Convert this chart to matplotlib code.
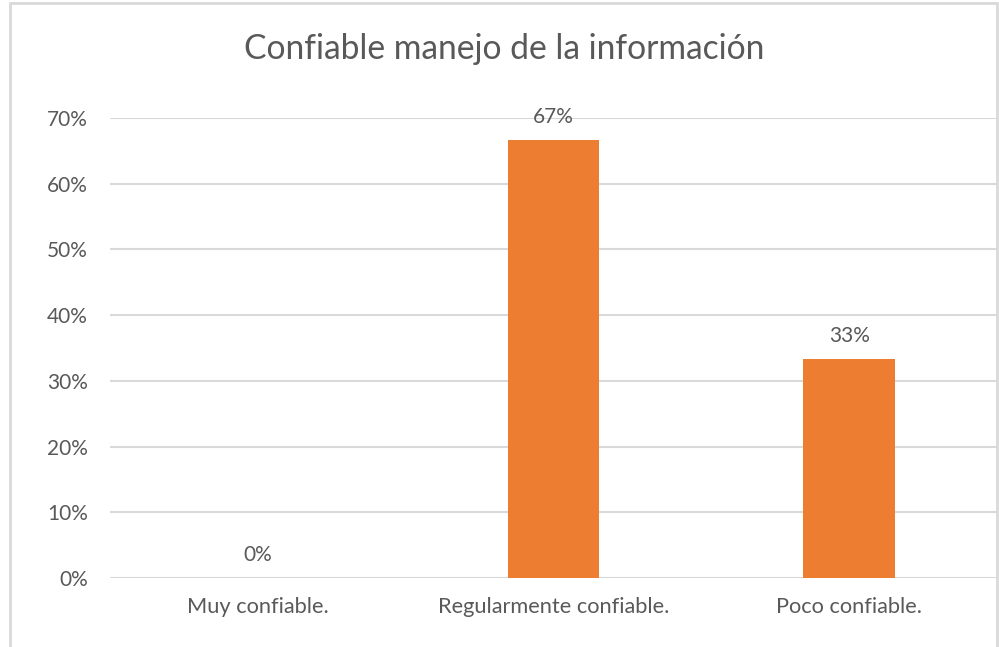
import matplotlib.pyplot as plt
from matplotlib.patches import Rectangle
from matplotlib.ticker import FuncFormatter

plt.rcParams['font.family'] = ['Lato', 'DejaVu Sans']

categories = ["Muy confiable.", "Regularmente confiable.", "Poco confiable."]
values = [0.0, 0.6667, 0.3333]
labels = ["0%", "67%", "33%"]

text_color = "#595959"
grid_color = "#d9d9d9"
bar_color = "#ed7d31"

fig = plt.figure(figsize=(9.99, 6.47), dpi=100)
ax = fig.add_axes([0.110, 0.1066, 0.888, 0.711])

# outer chart frame (cut at the bottom in the original)
fig.patches.append(Rectangle((10 / 999, -0.05), 987 / 999, 1 - 3 / 647 + 0.05,
                             transform=fig.transFigure, fill=False,
                             edgecolor=grid_color, linewidth=2))

x = range(len(categories))
bars = ax.bar(x, values, width=0.31, color=bar_color, zorder=3)
for b, lab in zip(bars, labels):
    ax.text(b.get_x() + b.get_width() / 2, b.get_height() + 0.02, lab,
            ha="center", va="bottom", fontsize=15, color=text_color)

ax.set_xlim(-0.5, 2.5)
ax.set_ylim(0, 0.7)
ax.set_yticks([i / 10 for i in range(8)])
ax.yaxis.set_major_formatter(FuncFormatter(lambda v, p: f"{v * 100:.0f}%"))
ax.set_xticks(list(x))
ax.set_xticklabels(categories)
ax.grid(axis="y", color=grid_color, linewidth=1.5, zorder=0)
ax.tick_params(length=0, labelsize=15, colors=text_color)
ax.tick_params(axis="x", labelsize=15.7, pad=14)
ax.tick_params(axis="y", pad=16)
for s in ax.spines.values():
    s.set_visible(False)

fig.text(0.505, 0.925, "Confiable manejo de la información", ha="center",
         va="center", fontsize=24.2, color=text_color)

fig.savefig("out.png", dpi=100)
